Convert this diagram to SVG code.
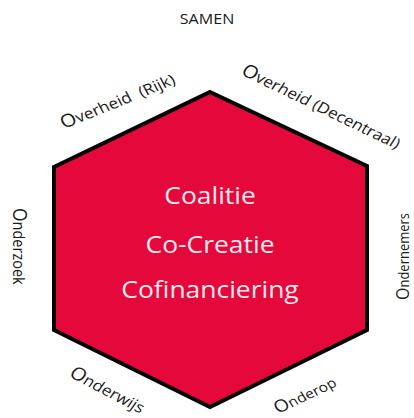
<svg xmlns="http://www.w3.org/2000/svg" width="414" height="418" viewBox="0 0 414 418">
<style>
text{font-family:"Open Sans","Noto Sans",sans-serif}
.lbl{fill:#1a1a1a}
.ctr{fill:#fbe9f0;font-size:23px;text-anchor:middle}
</style>
<rect width="414" height="418" fill="#fff"/>
<g id="hexagon">
<polygon points="210,92 367,166 367,330 210,407 54,330 54,167" fill="#E4083B" stroke="#000" stroke-width="4" stroke-linejoin="miter"/>
<text class="ctr" transform="translate(210,204) scale(1.15,1)">Coalitie</text>
<text class="ctr" transform="translate(210,253) scale(1.15,1)">Co-Creatie</text>
<text class="ctr" transform="translate(210,298) scale(1.15,1)">Cofinanciering</text>
</g>
<g id="samen"><text class="lbl" font-size="14" text-anchor="middle" transform="translate(207,24) scale(1.15,1)">SAMEN</text></g>
<g id="overheid-rijk"><text class="lbl" font-size="15" transform="translate(64,129) scale(1.15,1) rotate(-25)"><tspan font-size="18">O</tspan>verheid <tspan dx="4">(Rijk)</tspan></text></g>
<g id="overheid-decentraal"><text class="lbl" font-size="15" transform="translate(240,74) scale(1.15,1) rotate(29)"><tspan font-size="18">O</tspan>verheid (Decentraal)</text></g>
<g id="onderzoek"><text class="lbl" font-size="14.5" transform="translate(13,208) scale(1.15,1) rotate(90)"><tspan font-size="17.5">O</tspan>nderzoek</text></g>
<g id="ondernemers"><text class="lbl" font-size="13" transform="translate(409,300) scale(1.15,1) rotate(-90)"><tspan font-size="16">O</tspan>ndernemers</text></g>
<g id="onderwijs"><text class="lbl" font-size="15" transform="translate(68,376) scale(1.15,1) rotate(31)"><tspan font-size="18">O</tspan>nderwijs</text></g>
<g id="onderop"><text class="lbl" font-size="13.5" transform="translate(278,414) scale(1.15,1) rotate(-28.6)"><tspan font-size="17">O</tspan>nderop</text></g>
</svg>
